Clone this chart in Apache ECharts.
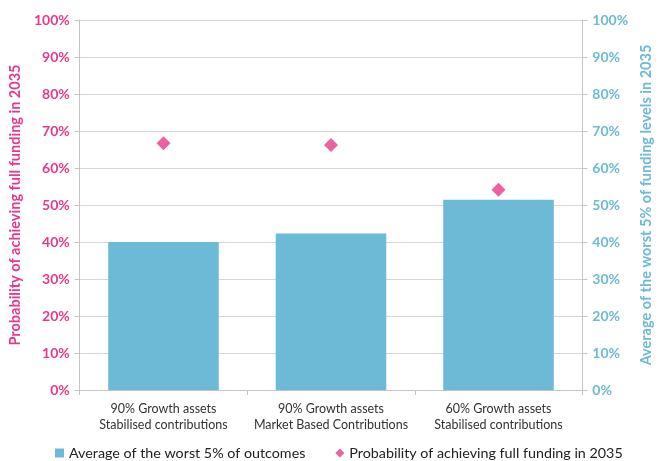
<!DOCTYPE html>
<html>
<head>
<meta charset="utf-8">
<script src="https://cdn.jsdelivr.net/npm/echarts@6/dist/echarts.min.js"></script>
<style>
  html, body { margin: 0; padding: 0; background: #ffffff; }
  #chart { width: 662px; height: 461px; }
</style>
</head>
<body>
<div id="chart"></div>
<script>
// Strategy categories (two-line labels)
const categories = [
  '90% Growth assets\nStabilised contributions',
  '90% Growth assets\nMarket Based Contributions',
  '60% Growth assets\nStabilised contributions'
];
// Average of the worst 5% of funding levels in 2035 (%)
const worstFiveAvg = [40.0, 42.3, 51.4];
// Probability of achieving full funding in 2035 (%)
const fullFundingProb = [66.7, 66.2, 54.1];
// Percentage tick values
const tickValues = [0, 10, 20, 30, 40, 50, 60, 70, 80, 90, 100];

const PINK = '#e6398b';
const BLUE = '#6cbad6';
const FONT = 'Lato';

const chart = echarts.init(document.getElementById('chart'), null, { renderer: 'canvas' });

function yAxisDef(position, color, title) {
  return {
    type: 'value',
    position: position,
    min: tickValues[0],
    max: tickValues[tickValues.length - 1],
    interval: tickValues[1] - tickValues[0],
    name: title,
    nameLocation: 'middle',
    nameRotate: 90,
    nameGap: position === 'left' ? 54 : 50,
    nameTextStyle: { color: color, fontFamily: FONT, fontSize: 14.5, fontWeight: 'bold' },
    axisLine: { show: true, lineStyle: { color: '#c4c4c4', width: 1 } },
    axisTick: { show: true, length: 5, lineStyle: { color: '#c4c4c4' } },
    axisLabel: {
      color: color, fontFamily: FONT, fontSize: 14, fontWeight: 'bold', margin: 10,
      formatter: v => v + '%'
    },
    splitLine: { show: position === 'left', lineStyle: { color: '#d6d6d6', width: 1 } }
  };
}

chart.setOption({
  animation: false,
  backgroundColor: '#ffffff',
  grid: { left: 79, right: 71, top: 20, bottom: 71, containLabel: false },
  legend: {
    left: 55,
    top: 445,
    padding: 0,
    itemWidth: 9,
    itemHeight: 9,
    itemGap: 30,
    textStyle: { color: '#222', fontFamily: FONT, fontSize: 14.3, lineHeight: 16 },
    data: [
      { name: 'Average of the worst 5% of outcomes', icon: 'rect' },
      { name: 'Probability of achieving full funding in 2035', icon: 'diamond' }
    ]
  },
  xAxis: {
    type: 'category',
    data: categories,
    axisLine: { show: true, lineStyle: { color: '#c4c4c4', width: 1 } },
    axisTick: { show: true, length: 5, alignWithLabel: false, lineStyle: { color: '#c4c4c4' } },
    axisLabel: { color: '#333', fontFamily: FONT, fontSize: 12.5, lineHeight: 16, margin: 11, interval: 0 },
    splitLine: { show: false }
  },
  yAxis: [
    yAxisDef('left', PINK, 'Probability of achieving full funding in 2035'),
    yAxisDef('right', BLUE, 'Average of the worst 5% of funding levels in 2035')
  ],
  series: [
    {
      name: 'Average of the worst 5% of outcomes',
      type: 'bar',
      yAxisIndex: 1,
      data: worstFiveAvg,
      barWidth: '66%',
      itemStyle: { color: BLUE }
    },
    {
      name: 'Probability of achieving full funding in 2035',
      type: 'scatter',
      yAxisIndex: 0,
      data: fullFundingProb,
      symbol: 'diamond',
      symbolSize: 14,
      itemStyle: { color: PINK }
    }
  ]
});
</script>
</body>
</html>
